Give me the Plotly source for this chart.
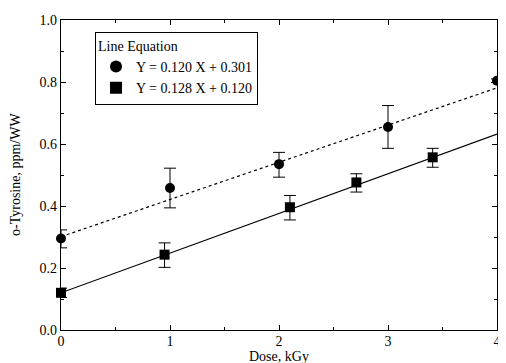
import plotly.graph_objects as go

# Data
dose_circle = [0, 1, 2, 3, 4]
tyr_circle = [0.295, 0.458, 0.535, 0.655, 0.804]
err_circle_plus = [0.028, 0.064, 0.038, 0.069, 0.006]
err_circle_minus = [0.030, 0.064, 0.042, 0.069, 0.006]

dose_square = [0, 0.95, 2.1, 2.71, 3.41]
tyr_square = [0.12, 0.243, 0.396, 0.476, 0.557]
err_square_plus = [0.015, 0.038, 0.038, 0.028, 0.029]
err_square_minus = [0.015, 0.041, 0.041, 0.031, 0.032]

slopes = [0.120, 0.128]
intercepts = [0.301, 0.120]
fit_range = [0, 4]
legend_labels = ["Y = 0.120 X + 0.301", "Y = 0.128 X + 0.120"]

serif = "Liberation Serif"

fig = go.Figure()

# Fit lines
fig.add_trace(go.Scatter(
    x=fit_range, y=[slopes[0] * x + intercepts[0] for x in fit_range],
    mode="lines", line=dict(color="black", width=1.2, dash="dot"),
    showlegend=False, hoverinfo="skip"))
fig.add_trace(go.Scatter(
    x=fit_range, y=[slopes[1] * x + intercepts[1] for x in fit_range],
    mode="lines", line=dict(color="black", width=1.2),
    showlegend=False, hoverinfo="skip"))

fig.add_trace(go.Scatter(
    x=dose_circle, y=tyr_circle, mode="markers", name=legend_labels[0],
    marker=dict(symbol="circle", size=10, color="black"), cliponaxis=False,
    error_y=dict(type="data", symmetric=False, array=err_circle_plus,
                 arrayminus=err_circle_minus, color="black", thickness=1, width=6)))
fig.add_trace(go.Scatter(
    x=dose_square, y=tyr_square, mode="markers", name=legend_labels[1],
    marker=dict(symbol="square", size=10, color="black"), cliponaxis=False,
    error_y=dict(type="data", symmetric=False, array=err_square_plus,
                 arrayminus=err_square_minus, color="black", thickness=1, width=6)))

fig.update_layout(
    width=498, height=355,
    margin=dict(l=53, r=5, t=9, b=33),
    paper_bgcolor="white", plot_bgcolor="white",
    font=dict(family=serif, color="black", size=14),
    legend=dict(
        x=0.078, y=0.962, xanchor="left", yanchor="top",
        bordercolor="black", borderwidth=1, bgcolor="white",
        title=dict(text="Line Equation", font=dict(family=serif, size=14)),
        font=dict(family=serif, size=14),
        itemsizing="constant", tracegroupgap=0, entrywidth=190,
    ),
    xaxis=dict(
        range=[0, 4], tickvals=[0, 1, 2, 3, 4], ticktext=["0", "1", "2", "3", "4"],
        ticks="inside", ticklen=5, tickcolor="black", showgrid=False, zeroline=False,
        showline=True, linecolor="black", linewidth=1.2, mirror="ticks",
        minor=dict(tickvals=[0.5, 1.5, 2.5, 3.5], ticks="inside", ticklen=3, tickcolor="black"),
        tickfont=dict(family=serif, size=14), ticklabelstandoff=-2,
    ),
    yaxis=dict(
        range=[0, 1.0], tickvals=[0, 0.2, 0.4, 0.6, 0.8, 1.0],
        ticktext=["0.0", "0.2", "0.4", "0.6", "0.8", "1.0"],
        ticks="inside", ticklen=5, tickcolor="black", showgrid=False, zeroline=False,
        showline=True, linecolor="black", linewidth=1.2, mirror="ticks",
        minor=dict(tickvals=[0.1, 0.3, 0.5, 0.7, 0.9], ticks="inside", ticklen=3, tickcolor="black"),
        tickfont=dict(family=serif, size=14),
    ),
    annotations=[
        dict(text="Dose, kGy", xref="paper", yref="paper", x=0.5, y=0,
             yshift=-26, xanchor="center", yanchor="middle", showarrow=False,
             font=dict(family=serif, size=14)),
        dict(text="o-Tyrosine, ppm/WW", xref="paper", yref="paper", x=0, y=0.5,
             xshift=-46, xanchor="center", yanchor="middle", textangle=-90,
             showarrow=False, font=dict(family=serif, size=14)),
    ],
)

fig.write_html("out.html")
